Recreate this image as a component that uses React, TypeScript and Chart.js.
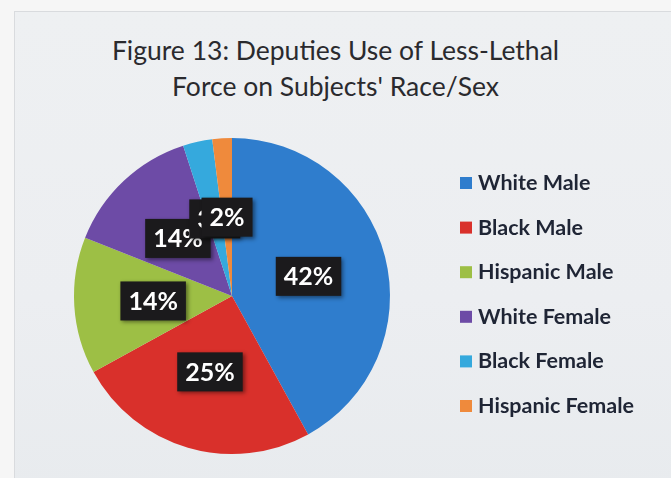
import React, { useEffect, useRef } from "react";
import { Chart, registerables } from "chart.js";

Chart.register(...registerables);

const categories = ["White Male", "Black Male", "Hispanic Male", "White Female", "Black Female", "Hispanic Female"];
const percentValues = [42, 25, 14, 14, 3, 2];
const sliceColors = ["#2f7dcd", "#d9302b", "#9dbf45", "#6d4ba6", "#35a9dd", "#ef8a3c"];
const titleLines = ["Figure 13: Deputies Use of Less-Lethal", "Force on Subjects' Race/Sex"];

const labelPlugin = {
  id: "boxLabels",
  afterDatasetsDraw(chart: any) {
    const ctx = chart.ctx;
    const meta = chart.getDatasetMeta(0);
    const data = chart.data.datasets[0].data as number[];
    ctx.save();
    ctx.font = "bold 25px Lato";
    ctx.textAlign = "center";
    ctx.textBaseline = "middle";
    meta.data.forEach((arc: any, i: number) => {
      const p = arc.tooltipPosition();
      const txt = data[i] + "%";
      const w = ctx.measureText(txt).width + 16;
      const h = 39;
      ctx.save();
      ctx.shadowColor = "rgba(0,0,0,0.45)";
      ctx.shadowBlur = 4;
      ctx.shadowOffsetX = 2;
      ctx.shadowOffsetY = 2;
      ctx.fillStyle = "#1b1a1c";
      ctx.fillRect(p.x - w / 2, p.y - h / 2, w, h);
      ctx.restore();
      ctx.fillStyle = "#ffffff";
      ctx.fillText(txt, p.x, p.y + 1);
    });
    ctx.restore();
  },
};

const legendPlugin = {
  id: "sideLegend",
  afterDraw(chart: any) {
    const ctx = chart.ctx;
    const labels = chart.data.labels as string[];
    const colors = chart.data.datasets[0].backgroundColor as string[];
    ctx.save();
    ctx.font = "bold 21.5px Lato";
    ctx.textAlign = "left";
    ctx.textBaseline = "middle";
    labels.forEach((lab, i) => {
      const cy = 183 + i * 44.6;
      ctx.fillStyle = colors[i];
      ctx.fillRect(460, cy - 6, 12, 12);
      ctx.fillStyle = "#1f2535";
      ctx.fillText(lab, 478, cy);
    });
    ctx.restore();
  },
};

export default function App() {
  const ref = useRef<HTMLCanvasElement | null>(null);
  useEffect(() => {
    if (!ref.current) return;
    const chart = new Chart(ref.current, {
      type: "pie",
      data: {
        labels: categories,
        datasets: [
          {
            data: percentValues,
            backgroundColor: sliceColors,
            borderWidth: 0,
          },
        ],
      },
      options: {
        animation: false,
        responsive: false,
        layout: { padding: { left: 74, top: 138, right: 281, bottom: 24 } },
        plugins: {
          legend: { display: false },
          tooltip: { enabled: false },
          title: { display: false },
        },
      },
      plugins: [labelPlugin, legendPlugin],
    });
    return () => chart.destroy();
  }, []);

  return (
    <div style={{ position: "fixed", left: 0, top: 0, width: 671, height: 478, background: "#f6f6f6", overflow: "hidden" }}>
      <div
        style={{
          position: "absolute",
          left: 14,
          top: 11,
          width: 671,
          height: 478,
          background: "linear-gradient(180deg, #eef0f2 0%, #eceef1 60%, #e8ebee 100%)",
          borderLeft: "1px solid #d9dbde",
          borderTop: "1px solid #d9dbde",
        }}
      />
      <div
        style={{
          position: "absolute",
          left: 0,
          top: 32,
          width: 671,
          textAlign: "center",
          fontFamily: "Lato",
          fontSize: 26.5,
          lineHeight: "36px",
          color: "#2a2a2e",
        }}
      >
        {titleLines.map((t, i) => (
          <div key={i}>{t}</div>
        ))}
      </div>
      <canvas ref={ref} width={671} height={478} style={{ position: "absolute", left: 0, top: 0 }} />
    </div>
  );
}
